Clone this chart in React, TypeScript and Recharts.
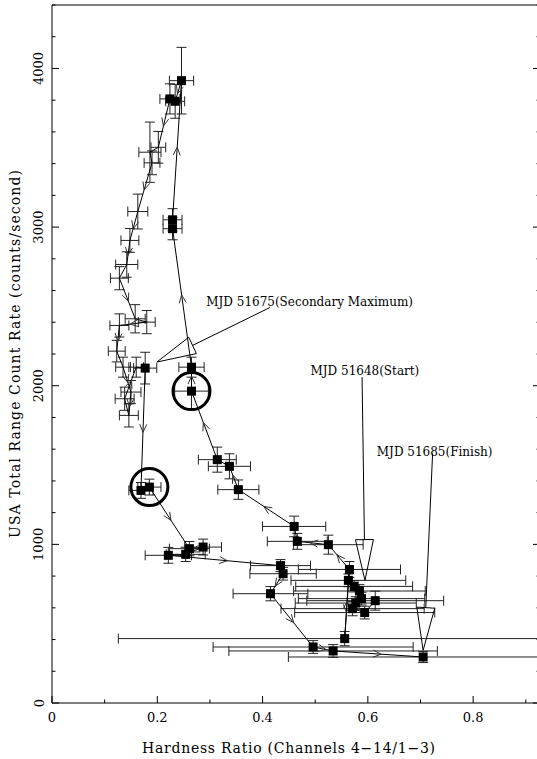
import React from "react";
import {
  ScatterChart,
  Scatter,
  XAxis,
  YAxis,
  ErrorBar,
  ReferenceLine,
  ReferenceDot,
} from "recharts";

// Hardness-intensity track, in time order (start in the lower right cluster)
const hardness = [
  0.614, 0.594, 0.571, 0.577, 0.588, 0.584, 0.574, 0.563, 0.556, 0.565,
  0.525, 0.466, 0.46, 0.354, 0.337, 0.314, 0.265, 0.265, 0.229, 0.229,
  0.246, 0.234, 0.224, 0.202, 0.186, 0.19, 0.163, 0.148, 0.142, 0.128,
  0.158, 0.18, 0.128, 0.123, 0.135, 0.15, 0.146, 0.138, 0.16, 0.177,
  0.169, 0.185, 0.261, 0.287, 0.254, 0.221, 0.434, 0.439, 0.415, 0.496,
  0.534, 0.705,
];
const countRate = [
  645, 570, 595, 630, 658, 706, 735, 773, 406, 842,
  998, 1019, 1113, 1345, 1492, 1534, 1966, 2117, 2990, 3046,
  3923, 3793, 3808, 3503, 3472, 3405, 3098, 2916, 2764, 2678,
  2422, 2401, 2380, 2218, 2117, 1960, 1813, 1918, 2117, 2111,
  1340, 1361, 973, 983, 937, 931, 866, 815, 689, 353,
  328, 290,
];
const hardnessErr = [
  0.13, 0.133, 0.136, 0.115, 0.12, 0.125, 0.111, 0.109, 0.43, 0.097,
  0.066, 0.057, 0.06, 0.039, 0.04, 0.036, 0.032, 0.024, 0.018, 0.018,
  0.023, 0.018, 0.019, 0.014, 0.021, 0.015, 0.019, 0.017, 0.021, 0.017,
  0.019, 0.016, 0.018, 0.016, 0.014, 0.019, 0.018, 0.018, 0.014, 0.022,
  0.023, 0.022, 0.038, 0.035, 0.037, 0.044, 0.057, 0.063, 0.071, 0.19,
  0.198, 0.256,
];
const countRateErr = [
  60, 40, 45, 40, 40, 40, 35, 40, 45, 50,
  60, 50, 65, 61, 79, 79, 115, 63, 70, 70,
  210, 107, 95, 100, 190, 75, 110, 75, 80, 73,
  89, 73, 73, 68, 63, 73, 73, 73, 63, 100,
  50, 50, 45, 50, 45, 50, 38, 40, 45, 40,
  40, 35,
];
// points drawn without a filled square (error cross only)
const crossOnly = [23, 24, 25, 26, 27, 28, 29, 30, 31, 32, 33, 34, 35, 36, 37, 38];
// points ringed in the figure
const ringed = [16, 41];

const xTickVals = [0, 0.1, 0.2, 0.3, 0.4, 0.5, 0.6, 0.7, 0.8, 0.9];
const xTickLabels = ["0", "", "0.2", "", "0.4", "", "0.6", "", "0.8", ""];
const yTickVals = [
  0, 200, 400, 600, 800, 1000, 1200, 1400, 1600, 1800, 2000, 2200, 2400,
  2600, 2800, 3000, 3200, 3400, 3600, 3800, 4000, 4200, 4400,
];
const yTickLabels = [
  "0", "", "", "", "", "1000", "", "", "", "", "2000", "", "", "", "", "3000",
  "", "", "", "", "4000", "", "",
];

const notes = [
  { text: "MJD 51675(Secondary Maximum)", tip: [0.199, 2149], base: [0.267, 2254], lead: [0.414, 2493], at: [0.293, 2500] },
  { text: "MJD 51648(Start)", tip: [0.5945, 773], base: [0.5935, 1030], lead: [0.589, 2054], at: [0.491, 2065] },
  { text: "MJD 51685(Finish)", tip: [0.705, 332], base: [0.71, 601], lead: [0.723, 1573], at: [0.617, 1560] },
];

const FONT = "'DejaVu Serif', 'Liberation Serif', serif";
const X_DOMAIN: [number, number] = [0, 0.927];
const Y_DOMAIN: [number, number] = [0, 4400];

const rows = hardness.map((x, i) => ({
  x,
  y: countRate[i],
  xe: hardnessErr[i],
  ye: countRateErr[i],
  open: crossOnly.includes(i),
}));
const ringRows = ringed.map((i) => rows[i]);

const isMajorX = (v: number) => xTickLabels[xTickVals.indexOf(v)] !== "";
const isMajorY = (v: number) => yTickLabels[yTickVals.indexOf(v)] !== "";

const BottomTick = (p: any) => {
  const v = p.payload.value;
  const len = isMajorX(v) ? 7 : 3.5;
  return (
    <g>
      <line x1={p.x} y1={p.y} x2={p.x} y2={p.y - len} stroke="#000" />
      <text x={p.x} y={p.y + 18.5} textAnchor="middle" fontFamily={FONT} fontSize={13} fill="#000">
        {xTickLabels[xTickVals.indexOf(v)]}
      </text>
    </g>
  );
};
const TopTick = (p: any) => {
  const len = isMajorX(p.payload.value) ? 7 : 3.5;
  return <line x1={p.x} y1={p.y} x2={p.x} y2={p.y + len} stroke="#000" />;
};
const LeftTick = (p: any) => {
  const v = p.payload.value;
  const len = isMajorY(v) ? 7 : 3.5;
  const lx = p.x - 8.5;
  return (
    <g>
      <line x1={p.x} y1={p.y} x2={p.x + len} y2={p.y} stroke="#000" />
      <text x={lx} y={p.y} transform={`rotate(-90 ${lx} ${p.y})`} textAnchor="middle" fontFamily={FONT} fontSize={13} fill="#000">
        {yTickLabels[yTickVals.indexOf(v)]}
      </text>
    </g>
  );
};
const RightTick = (p: any) => {
  const len = isMajorY(p.payload.value) ? 7 : 3.5;
  return <line x1={p.x} y1={p.y} x2={p.x - len} y2={p.y} stroke="#000" />;
};

// connecting line with open arrowheads half way along the longer steps
const Track = (p: any) => {
  const pts = p.points || [];
  const d = pts.map((q: any, i: number) => `${i ? "L" : "M"}${q.x},${q.y}`).join("");
  const heads: React.ReactNode[] = [];
  for (let i = 0; i < pts.length - 1; i++) {
    const dx = pts[i + 1].x - pts[i].x;
    const dy = pts[i + 1].y - pts[i].y;
    const len = Math.hypot(dx, dy);
    if (len < 18) continue;
    const ux = dx / len;
    const uy = dy / len;
    const mx = pts[i].x + dx / 2 + ux * 3;
    const my = pts[i].y + dy / 2 + uy * 3;
    const bx = mx - ux * 8;
    const by = my - uy * 8;
    heads.push(
      <path
        key={i}
        d={`M${bx - uy * 3.5},${by + ux * 3.5}L${mx},${my}L${bx + uy * 3.5},${by - ux * 3.5}`}
        fill="none"
        stroke="#333"
        strokeWidth={1}
      />
    );
  }
  return (
    <g>
      <path d={d} fill="none" stroke="#000" strokeWidth={1} />
      {heads}
    </g>
  );
};

const Marker = (p: any) =>
  p.payload && p.payload.open ? (
    <g />
  ) : (
    <rect x={p.cx - 4.5} y={p.cy - 4.5} width={9} height={9} fill="#000" />
  );

const Ring = (p: any) => (
  <circle cx={p.cx} cy={p.cy} r={18.5} fill="none" stroke="#000" strokeWidth={3} />
);

const Pointer = (p: any) => {
  const dx = p.x2 - p.x1;
  const dy = p.y2 - p.y1;
  const len = Math.hypot(dx, dy) || 1;
  const nx = -dy / len;
  const ny = dx / len;
  const w = 9;
  return (
    <path
      d={`M${p.x1},${p.y1}L${p.x2 + nx * w},${p.y2 + ny * w}L${p.x2 - nx * w},${p.y2 - ny * w}Z`}
      fill="none"
      stroke="#000"
      strokeWidth={1}
    />
  );
};

export default function App() {
  return (
    <div
      style={{
        position: "absolute",
        left: 0,
        top: 0,
        width: 537,
        height: 759,
        overflow: "hidden",
        background: "#fff",
      }}
    >
      <ScatterChart width={545} height={759} margin={{ top: 4, right: 4, bottom: 55, left: 51 }}>
        <XAxis
          dataKey="x"
          type="number"
          domain={X_DOMAIN}
          allowDataOverflow
          ticks={xTickVals}
          interval={0}
          height={1}
          tickSize={0}
          tickMargin={0}
          tickLine={false}
          tick={BottomTick}
          axisLine={{ stroke: "#000" }}
        />
        <XAxis
          xAxisId="top"
          orientation="top"
          type="number"
          domain={X_DOMAIN}
          allowDataOverflow
          ticks={xTickVals}
          interval={0}
          height={1}
          tickSize={0}
          tickMargin={0}
          tickLine={false}
          tick={TopTick}
          axisLine={{ stroke: "#000" }}
        />
        <YAxis
          dataKey="y"
          type="number"
          domain={Y_DOMAIN}
          allowDataOverflow
          ticks={yTickVals}
          interval={0}
          width={1}
          tickSize={0}
          tickMargin={0}
          tickLine={false}
          tick={LeftTick}
          axisLine={{ stroke: "#000" }}
        />
        <YAxis
          yAxisId="right"
          orientation="right"
          type="number"
          domain={Y_DOMAIN}
          allowDataOverflow
          ticks={yTickVals}
          interval={0}
          width={1}
          tickSize={0}
          tickMargin={0}
          tickLine={false}
          tick={RightTick}
          axisLine={{ stroke: "#000" }}
        />
        <Scatter
          data={rows}
          line={Track}
          lineType="joint"
          shape={Marker}
          isAnimationActive={false}
        >
          <ErrorBar dataKey="xe" direction="x" width={5} stroke="#222" strokeWidth={1} isAnimationActive={false} />
          <ErrorBar dataKey="ye" direction="y" width={5} stroke="#222" strokeWidth={1} isAnimationActive={false} />
        </Scatter>
        <Scatter data={ringRows} shape={Ring} isAnimationActive={false} />
        {notes.map((n) => (
          <ReferenceLine
            key={n.text + "p"}
            segment={[{ x: n.tip[0], y: n.tip[1] }, { x: n.base[0], y: n.base[1] }]}
            shape={Pointer}
          />
        ))}
        {notes.map((n) => (
          <ReferenceLine
            key={n.text + "l"}
            segment={[{ x: n.base[0], y: n.base[1] }, { x: n.lead[0], y: n.lead[1] }]}
            stroke="#000"
            strokeWidth={1}
          />
        ))}
        {notes.map((n) => (
          <ReferenceDot
            key={n.text + "t"}
            x={n.at[0]}
            y={n.at[1]}
            r={0}
            shape={(p: any) => (
              <text x={p.cx} y={p.cy} fontFamily={FONT} fontSize={12} fill="#000">
                {n.text}
              </text>
            )}
          />
        ))}
        <text
          x={288.5}
          y={752.5}
          textAnchor="middle"
          fontFamily={FONT}
          fontSize={14}
          textLength={293}
          lengthAdjust="spacing"
          fill="#000"
        >
          Hardness Ratio (Channels 4−14/1−3)
        </text>
        <text
          x={20}
          y={354}
          transform="rotate(-90 20 354)"
          textAnchor="middle"
          fontFamily={FONT}
          fontSize={14}
          textLength={368}
          lengthAdjust="spacing"
          fill="#000"
        >
          USA Total Range Count Rate (counts/second)
        </text>
      </ScatterChart>
    </div>
  );
}
